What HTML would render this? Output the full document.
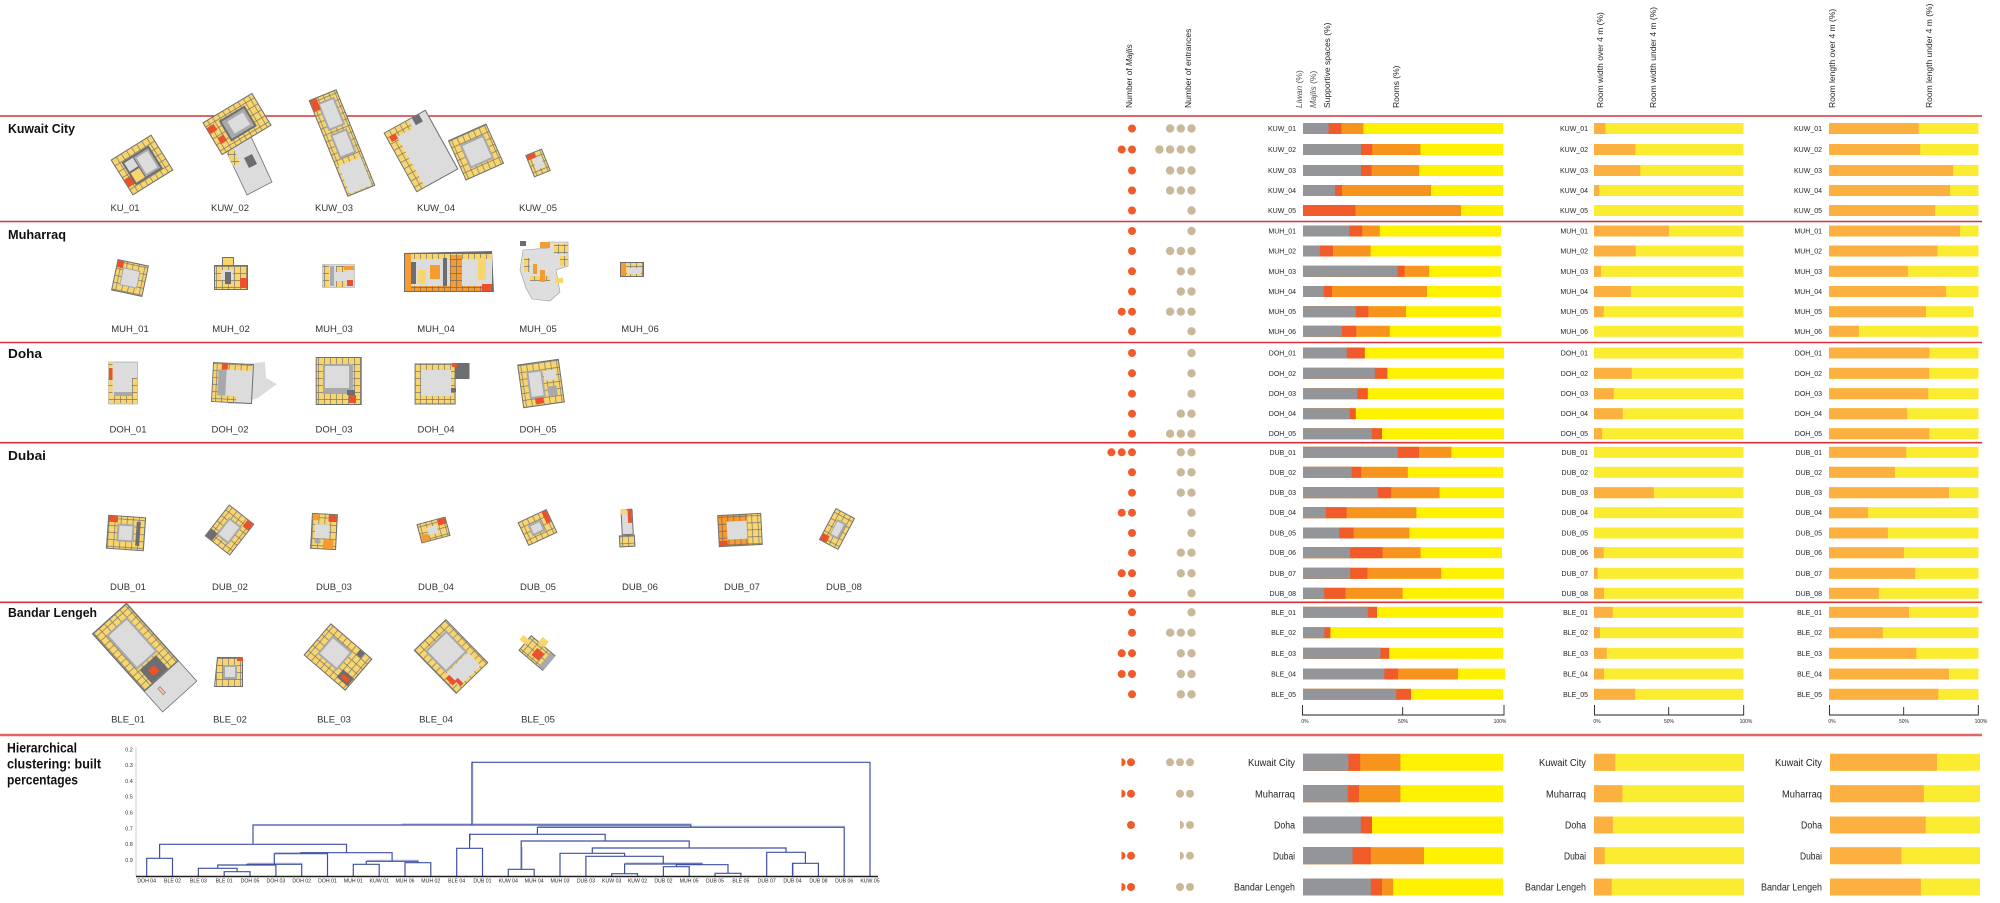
<!DOCTYPE html>
<html><head><meta charset="utf-8">
<style>
html,body{margin:0;padding:0;background:#fff;}
body{width:2000px;height:903px;overflow:hidden;}
svg{display:block;font-family:"Liberation Sans",sans-serif;}
.g{fill:#939598}.r{fill:#f15a29}.o{fill:#f7941d}.y{fill:#fff200}
.wo{fill:#fbb040}.wy{fill:#f9ec31}
.m{fill:#f15a29}.e{fill:#c9b99a}
.lb{font-size:7px;fill:#231f20;text-anchor:end}
.sl{font-size:10px;fill:#231f20;text-anchor:end}
.pl{font-size:9.5px;fill:#333;text-anchor:middle}
.hd{font-size:8.5px;fill:#231f20}
.ttl{font-size:13px;font-weight:bold;fill:#111}
.ax{font-size:5px;fill:#231f20;text-anchor:middle}
.lf{font-size:5.2px;fill:#231f20;text-anchor:middle}
.D{fill:#6d6e71}.Y{fill:#f9d56e}.M{fill:#a7a9ac}.L{fill:#dcdcdc}.R{fill:#e9522b}.O{fill:#f59b30}
.P{fill:url(#rm)}.PO{fill:url(#ro)}
</style></head>
<body>
<svg width="2000" height="903" viewBox="0 0 2000 903" xmlns="http://www.w3.org/2000/svg">
<defs>
<pattern id="rm" width="6" height="7" patternUnits="userSpaceOnUse"><rect width="6" height="7" fill="#f9d56e"/><path d="M0.35 0V7M0 0.35H6" stroke="#7a7970" stroke-width="0.7"/></pattern>
<pattern id="ro" width="6" height="7" patternUnits="userSpaceOnUse"><rect width="6" height="7" fill="#f59b30"/><path d="M0.35 0V7M0 0.35H6" stroke="#7a6a5e" stroke-width="0.7"/></pattern>
</defs>

<!-- separator lines -->
<g stroke="#d8313a" stroke-width="1.6">
<line x1="0" y1="116" x2="1982" y2="116"/>
<line x1="0" y1="221.5" x2="1982" y2="221.5"/>
<line x1="0" y1="342.5" x2="1982" y2="342.5"/>
<line x1="0" y1="442.7" x2="1982" y2="442.7"/>
<line x1="0" y1="602.3" x2="1982" y2="602.3"/>
</g>
<line x1="0" y1="735" x2="1982" y2="735" stroke="#e06767" stroke-width="2.4"/>

<!-- headers -->
<g class="hd">
<text transform="translate(1132,108) rotate(-90)">Number of <tspan font-style="italic">Majlis</tspan></text>
<text transform="translate(1191,108) rotate(-90)">Number of entrances</text>
<text transform="translate(1302,108) rotate(-90)" fill="#555"><tspan font-style="italic">Liwan</tspan> (%)</text>
<text transform="translate(1316,108) rotate(-90)" fill="#555"><tspan font-style="italic">Majlis</tspan> (%)</text>
<text transform="translate(1330,108) rotate(-90)">Supportive spaces (%)</text>
<text transform="translate(1399,108) rotate(-90)">Rooms (%)</text>
<text transform="translate(1603,108) rotate(-90)">Room width over 4 m (%)</text>
<text transform="translate(1656,108) rotate(-90)">Room width under 4 m (%)</text>
<text transform="translate(1835,108) rotate(-90)">Room length over 4 m (%)</text>
<text transform="translate(1932,108) rotate(-90)">Room length under 4 m (%)</text>
</g>

<!-- region titles -->
<text class="ttl" x="8" y="133" textLength="67" lengthAdjust="spacingAndGlyphs">Kuwait City</text>
<text class="ttl" x="8" y="239" textLength="58" lengthAdjust="spacingAndGlyphs">Muharraq</text>
<text class="ttl" x="8" y="358" textLength="34" lengthAdjust="spacingAndGlyphs">Doha</text>
<text class="ttl" x="8" y="460" textLength="38" lengthAdjust="spacingAndGlyphs">Dubai</text>
<text class="ttl" x="8" y="617" textLength="89" lengthAdjust="spacingAndGlyphs">Bandar Lengeh</text>
<g font-size="14" font-weight="bold" fill="#111">
<text x="7" y="752.5" textLength="70" lengthAdjust="spacingAndGlyphs">Hierarchical</text>
<text x="7" y="768.5" textLength="94" lengthAdjust="spacingAndGlyphs">clustering: built</text>
<text x="7" y="784.5" textLength="71" lengthAdjust="spacingAndGlyphs">percentages</text>
</g>

<!-- ===== floor plans ===== -->
<!-- Kuwait -->
<g transform="translate(142,165) rotate(-32)">
<rect x="-24" y="-21" width="48" height="42" class="D"/><rect x="-23" y="-20" width="46" height="40" class="P"/>
<rect x="-16" y="-13" width="32" height="27" class="D"/><rect x="-3" y="-11" width="17" height="23" class="M"/><rect x="-1" y="-9" width="13" height="19" class="L"/>
<rect x="-14" y="-11" width="10" height="10" class="L"/><rect x="-14" y="1" width="10" height="11" class="Y"/>
<rect x="-23" y="3" width="7" height="9" class="R"/>
</g>
<polygon points="222,142 247,128 272,182 247,195" class="L" stroke="#6d6e71" stroke-width="0.8"/>
<polygon points="222,142 229,139 240,163 233,166" class="P"/>
<polygon points="244,158 252,154 257,164 249,168" class="D"/>
<g transform="translate(237,124) rotate(-31)">
<rect x="-29" y="-19" width="58" height="38" class="D"/><rect x="-28" y="-18" width="56" height="36" class="P"/>
<rect x="-14" y="-12" width="30" height="24" class="D"/><rect x="-12" y="-10" width="26" height="20" class="M"/><rect x="-7" y="-7" width="18" height="14" class="L"/>
<rect x="-28" y="-12" width="8" height="7" class="R"/><rect x="-24" y="2" width="7" height="7" class="R"/>
</g>
<g transform="translate(342,143) rotate(-22)">
<rect x="-15" y="-52" width="30" height="104" class="D"/><rect x="-14" y="-51" width="28" height="102" class="P"/>
<rect x="-8" y="-46" width="18" height="30" class="M"/><rect x="-6" y="-44" width="14" height="26" class="L"/>
<rect x="-8" y="-12" width="18" height="26" class="M"/><rect x="-6" y="-10" width="14" height="22" class="L"/>
<rect x="-12" y="20" width="24" height="30" class="L"/>
<rect x="-14" y="-51" width="7" height="12" class="R"/>
</g>
<g transform="translate(421,151) rotate(-29)">
<rect x="-24" y="-34" width="48" height="68" class="D"/><rect x="-23" y="-33" width="46" height="66" class="L"/>
<rect x="-23" y="-33" width="9" height="66" class="P"/><rect x="-14" y="-33" width="18" height="9" class="P"/>
<rect x="-21" y="-28" width="7" height="6" class="R"/><rect x="8" y="-33" width="8" height="8" class="D"/>
</g>
<g transform="translate(476,152) rotate(-24)">
<rect x="-21" y="-22" width="42" height="44" class="D"/><rect x="-20" y="-21" width="40" height="42" class="P"/>
<rect x="-12" y="-13" width="26" height="26" class="M"/><rect x="-10" y="-11" width="22" height="22" class="L"/>
</g>
<g transform="translate(538,163) rotate(-22)">
<rect x="-9" y="-12" width="18" height="24" class="D"/><rect x="-8" y="-11" width="16" height="22" class="P"/>
<rect x="-4" y="-6" width="9" height="12" class="L"/><rect x="-8" y="-11" width="8" height="5" class="R"/>
</g>

<!-- Muharraq -->
<g transform="translate(130,278) rotate(12)">
<rect x="-16" y="-16" width="32" height="32" class="D"/><rect x="-15" y="-15" width="30" height="30" class="P"/>
<rect x="-9" y="-9" width="18" height="18" class="M"/><rect x="-8" y="-8" width="16" height="16" class="L"/>
<rect x="-15" y="-15" width="6" height="7" class="R"/>
</g>
<rect x="214" y="265" width="34" height="25" class="D"/><rect x="215" y="266" width="32" height="23" class="P"/>
<rect x="221" y="270" width="12" height="10" class="L"/><rect x="225" y="272" width="6" height="12" class="D"/>
<rect x="240" y="278" width="7" height="10" class="R"/>
<rect x="222" y="257" width="12" height="9" class="D"/><rect x="223" y="258" width="10" height="7" class="Y"/>
<rect x="322" y="264" width="33" height="24" fill="#c8c8c8"/><rect x="323" y="265" width="31" height="22" class="L"/>
<rect x="323" y="265" width="6" height="22" class="P"/><rect x="330" y="266" width="4" height="20" class="M"/>
<rect x="336" y="266" width="12" height="6" class="P"/><rect x="344" y="266" width="10" height="4" class="O"/>
<rect x="336" y="281" width="10" height="6" class="P"/><rect x="347" y="280" width="6" height="6" class="R"/>
<polygon points="404,253 492,251 494,292 404,292" class="D"/>
<rect x="405" y="254" width="87" height="37" class="L"/>
<rect x="405" y="254" width="87" height="5" class="P"/><rect x="405" y="286" width="87" height="5" class="PO"/>
<rect x="405" y="254" width="6" height="37" class="O"/><rect x="411" y="262" width="5" height="22" class="D"/>
<rect x="418" y="270" width="8" height="14" class="Y"/><rect x="430" y="265" width="10" height="14" class="O"/>
<rect x="443" y="258" width="4" height="28" class="D"/><rect x="450" y="255" width="12" height="36" class="PO"/>
<rect x="478" y="258" width="8" height="22" class="Y"/><rect x="482" y="284" width="10" height="7" class="R"/>
<polygon points="523,250 548,248 548,242 568,242 568,266 556,270 560,292 550,301 532,299 526,288 520,270" fill="#dedede" stroke="#999" stroke-width="0.6"/>
<rect x="540" y="242" width="10" height="6" class="O"/><rect x="554" y="244" width="14" height="10" class="P"/>
<rect x="560" y="256" width="8" height="10" class="P"/><rect x="524" y="258" width="6" height="14" class="P"/>
<rect x="530" y="276" width="20" height="5" class="P"/><rect x="555" y="278" width="8" height="5" class="Y"/>
<rect x="540" y="270" width="5" height="12" class="O"/><rect x="533" y="264" width="4" height="10" class="O"/>
<rect x="520" y="241" width="6" height="5" class="D"/>
<rect x="620" y="262" width="24" height="15" class="D"/><rect x="621" y="263" width="22" height="13" class="P"/>
<rect x="627" y="268" width="14" height="6" class="L"/><rect x="621" y="263" width="5" height="13" class="O"/>

<!-- Doha -->
<rect x="108.6" y="362" width="28.8" height="42" class="L" stroke="#888" stroke-width="0.5"/>
<rect x="108.6" y="362" width="4" height="40" class="P"/><rect x="109" y="368" width="3.5" height="12" class="R"/>
<rect x="132" y="378" width="5" height="26" class="P"/><rect x="112" y="396" width="22" height="7" class="P"/>
<rect x="114" y="392" width="18" height="4" class="M"/>
<polygon points="230,365 265,362 266,378 277,384 258,398 240,404 228,404" fill="#dcdcdc"/>
<g transform="rotate(3 232 383)">
<rect x="212" y="363" width="41" height="40" class="D"/><rect x="213" y="364" width="39" height="38" class="L"/>
<rect x="213" y="364" width="5" height="38" class="P"/><rect x="218" y="364" width="33" height="6" class="P"/>
<rect x="221" y="364" width="6" height="6" class="R"/><rect x="215" y="396" width="22" height="6" class="P"/>
<rect x="218" y="370" width="8" height="26" class="M"/>
</g>
<rect x="315.7" y="357" width="46" height="48" class="D"/><rect x="316.7" y="358" width="44" height="46" class="P"/>
<rect x="323" y="364" width="30" height="30" class="M"/><rect x="325" y="366" width="24" height="22" class="L"/>
<rect x="347" y="390" width="8" height="5" class="D"/><rect x="349" y="395" width="7" height="8" class="R"/>
<rect x="414.6" y="363.5" width="41" height="41" class="D"/><rect x="415.6" y="364.5" width="39" height="39" class="P"/>
<rect x="421" y="370" width="30" height="26" class="L"/><rect x="455" y="363" width="14.5" height="16" class="D"/>
<rect x="452" y="363" width="5" height="4" class="R"/><rect x="451" y="388" width="5" height="4" class="D"/>
<g transform="translate(541,383.5) rotate(-8)">
<rect x="-21" y="-22" width="42" height="44" class="D"/><rect x="-20" y="-21" width="40" height="42" class="P"/>
<rect x="-13" y="-14" width="16" height="28" class="M"/><rect x="-11" y="-12" width="12" height="24" class="L"/>
<rect x="4" y="-12" width="12" height="10" class="L"/><rect x="6" y="4" width="9" height="10" class="M"/>
<rect x="-8" y="14" width="8" height="6" class="R"/>
</g>

<!-- Dubai -->
<g transform="translate(126,533) rotate(4)">
<rect x="-19" y="-17" width="38" height="34" class="D"/><rect x="-18" y="-16" width="36" height="32" class="P"/>
<rect x="-9" y="-9" width="17" height="18" class="M"/><rect x="-7" y="-7" width="13" height="14" class="L"/>
<rect x="-18" y="-16" width="9" height="6" class="R"/><rect x="10" y="-12" width="4" height="24" class="D"/>
</g>
<g transform="translate(229.5,530) rotate(38)">
<rect x="-16" y="-20" width="32" height="40" class="D"/><rect x="-15" y="-19" width="30" height="38" class="P"/>
<rect x="-8" y="-10" width="16" height="22" class="M"/><rect x="-6" y="-8" width="12" height="18" class="L"/>
<rect x="8" y="-19" width="7" height="8" class="R"/><rect x="-15" y="10" width="8" height="9" class="D"/>
</g>
<g transform="translate(324,531.5) rotate(3)">
<rect x="-13" y="-18" width="26" height="36" class="D"/><rect x="-12" y="-17" width="24" height="34" class="P"/>
<rect x="-9" y="-7" width="14" height="14" class="L"/><rect x="4" y="-17" width="8" height="7" class="R"/>
<rect x="-12" y="-17" width="6" height="6" class="O"/><rect x="0" y="8" width="10" height="9" class="O"/>
<rect x="-9" y="8" width="6" height="4" class="M"/>
</g>
<g transform="translate(433.5,530) rotate(-15)">
<rect x="-15" y="-10" width="30" height="20" class="D"/><rect x="-14" y="-9" width="28" height="18" class="P"/>
<rect x="-6" y="-4" width="10" height="8" class="L"/><rect x="6" y="-9" width="8" height="6" class="R"/>
<rect x="-14" y="2" width="8" height="7" class="O"/>
</g>
<g transform="translate(537.5,527.5) rotate(-25)">
<rect x="-16" y="-13" width="32" height="26" class="D"/><rect x="-15" y="-12" width="30" height="24" class="P"/>
<rect x="-8" y="-6" width="14" height="12" class="M"/><rect x="-6" y="-4" width="10" height="8" class="L"/>
<rect x="10" y="-12" width="5" height="12" class="R"/>
</g>
<g transform="translate(627.5,529) rotate(-3)">
<rect x="-6" y="-20" width="12" height="26" class="D"/><rect x="-5" y="-19" width="10" height="24" class="L"/>
<rect x="1" y="-20" width="4" height="14" class="R"/><rect x="-6" y="-20" width="6" height="5" class="Y"/>
<rect x="-9" y="6" width="16" height="12" class="D"/><rect x="-8" y="7" width="14" height="10" class="P"/>
</g>
<g transform="translate(740,530) rotate(-3)">
<rect x="-22" y="-16" width="44" height="32" class="D"/><rect x="-21" y="-15" width="42" height="30" class="PO"/>
<rect x="-13" y="-9" width="20" height="18" class="L"/><rect x="8" y="-15" width="13" height="30" class="P"/>
<rect x="-21" y="10" width="8" height="5" class="R"/>
</g>
<g transform="translate(837,529) rotate(28)">
<rect x="-11" y="-18" width="22" height="36" class="D"/><rect x="-10" y="-17" width="20" height="34" class="P"/>
<rect x="-4" y="-9" width="10" height="18" class="M"/><rect x="-3" y="-7" width="7" height="14" class="L"/>
<rect x="-10" y="10" width="7" height="7" class="R"/>
</g>

<!-- Bandar Lengeh -->
<g transform="translate(144.6,657.5) rotate(48)">
<rect x="-52.5" y="-23" width="105" height="46" class="L" stroke="#6d6e71" stroke-width="0.8"/>
<rect x="-52.5" y="-23" width="78" height="46" class="D"/><rect x="-51.5" y="-22" width="76" height="44" class="P"/>
<rect x="-42" y="-14" width="46" height="28" class="M"/><rect x="-40" y="-12" width="42" height="24" class="L"/>
<rect x="6" y="-10" width="18" height="22" class="D"/><rect x="12" y="-2" width="8" height="8" class="R"/>
<rect x="32" y="8" width="8" height="3" fill="#f6c0a0" stroke="#6d6e71" stroke-width="0.5"/>
</g>
<polygon points="217,657 243,657 243,687 214,687" class="D"/>
<polygon points="218,658 242,658 242,686 215,686" class="P"/>
<rect x="223" y="665" width="14" height="14" class="M"/><rect x="225" y="667" width="10" height="10" class="L"/>
<rect x="237" y="657" width="6" height="4" class="R"/>
<g transform="translate(338,657) rotate(40.6)">
<rect x="-27.5" y="-21" width="55" height="42" class="D"/><rect x="-26.5" y="-20" width="53" height="40" class="P"/>
<rect x="-18" y="-13" width="26" height="24" class="M"/><rect x="-16" y="-11" width="22" height="20" class="L"/>
<rect x="12" y="6" width="14" height="10" class="D"/><rect x="15" y="9" width="9" height="5" class="R"/>
<rect x="12" y="-20" width="6" height="6" class="D"/>
</g>
<g transform="translate(451,656.5) rotate(45.7)">
<rect x="-30.5" y="-22.5" width="61" height="45" class="D"/><rect x="-29.5" y="-21.5" width="59" height="43" class="P"/>
<rect x="-22" y="-15" width="30" height="30" class="M"/><rect x="-20" y="-13" width="26" height="26" class="L"/>
<rect x="9" y="-15" width="18" height="30" class="L"/>
<rect x="12" y="14" width="10" height="5" class="R"/><rect x="20" y="10" width="8" height="4" class="R"/>
</g>
<g transform="translate(537,653) rotate(40)">
<rect x="-16" y="-10" width="32" height="20" class="D"/><rect x="-15" y="-9" width="30" height="18" class="P"/>
<rect x="-3" y="-4" width="9" height="9" class="R"/><rect x="10" y="-9" width="6" height="18" class="M"/>
<rect x="-22" y="-5" width="8" height="6" class="Y"/><rect x="-6" y="-16" width="8" height="7" class="Y"/>
</g>

<!-- plan labels -->
<g class="pl">
<text x="125" y="211">KU_01</text><text x="230" y="211">KUW_02</text><text x="334" y="211">KUW_03</text><text x="436" y="211">KUW_04</text><text x="538" y="211">KUW_05</text>
<text x="130" y="332">MUH_01</text><text x="231" y="332">MUH_02</text><text x="334" y="332">MUH_03</text><text x="436" y="332">MUH_04</text><text x="538" y="332">MUH_05</text><text x="640" y="332">MUH_06</text>
<text x="128" y="432.5">DOH_01</text><text x="230" y="432.5">DOH_02</text><text x="334" y="432.5">DOH_03</text><text x="436" y="432.5">DOH_04</text><text x="538" y="432.5">DOH_05</text>
<text x="128" y="590">DUB_01</text><text x="230" y="590">DUB_02</text><text x="334" y="590">DUB_03</text><text x="436" y="590">DUB_04</text><text x="538" y="590">DUB_05</text><text x="640" y="590">DUB_06</text><text x="742" y="590">DUB_07</text><text x="844" y="590">DUB_08</text>
<text x="128" y="722.5">BLE_01</text><text x="230" y="722.5">BLE_02</text><text x="334" y="722.5">BLE_03</text><text x="436" y="722.5">BLE_04</text><text x="538" y="722.5">BLE_05</text>
</g>

<!-- ===== dots ===== -->
<g class="m">
<circle cx="1132" cy="128.5" r="4"/>
<circle cx="1132" cy="149.5" r="4"/><circle cx="1121.7" cy="149.5" r="4"/>
<circle cx="1132" cy="170.5" r="4"/><circle cx="1132" cy="190.5" r="4"/><circle cx="1132" cy="210.5" r="4"/>
<circle cx="1132" cy="231" r="4"/><circle cx="1132" cy="251" r="4"/><circle cx="1132" cy="271.3" r="4"/><circle cx="1132" cy="291.5" r="4"/>
<circle cx="1132" cy="311.7" r="4"/><circle cx="1121.7" cy="311.7" r="4"/><circle cx="1132" cy="331.3" r="4"/>
<circle cx="1132" cy="353" r="4"/><circle cx="1132" cy="373.3" r="4"/><circle cx="1132" cy="393.7" r="4"/><circle cx="1132" cy="413.7" r="4"/><circle cx="1132" cy="433.7" r="4"/>
<circle cx="1132" cy="452.3" r="4"/><circle cx="1121.7" cy="452.3" r="4"/><circle cx="1111.4" cy="452.3" r="4"/>
<circle cx="1132" cy="472.3" r="4"/><circle cx="1132" cy="492.7" r="4"/>
<circle cx="1132" cy="512.7" r="4"/><circle cx="1121.7" cy="512.7" r="4"/>
<circle cx="1132" cy="533" r="4"/><circle cx="1132" cy="552.7" r="4"/>
<circle cx="1132" cy="573.3" r="4"/><circle cx="1121.7" cy="573.3" r="4"/><circle cx="1132" cy="593.3" r="4"/>
<circle cx="1132" cy="612.3" r="4"/><circle cx="1132" cy="632.7" r="4"/>
<circle cx="1132" cy="653.3" r="4"/><circle cx="1121.7" cy="653.3" r="4"/>
<circle cx="1132" cy="674" r="4"/><circle cx="1121.7" cy="674" r="4"/><circle cx="1132" cy="694.3" r="4"/>
</g>
<g class="e">
<circle cx="1191.5" cy="128.5" r="4.2"/><circle cx="1180.8" cy="128.5" r="4.2"/><circle cx="1170.1" cy="128.5" r="4.2"/>
<circle cx="1191.5" cy="149.5" r="4.2"/><circle cx="1180.8" cy="149.5" r="4.2"/><circle cx="1170.1" cy="149.5" r="4.2"/><circle cx="1159.4" cy="149.5" r="4.2"/>
<circle cx="1191.5" cy="170.5" r="4.2"/><circle cx="1180.8" cy="170.5" r="4.2"/><circle cx="1170.1" cy="170.5" r="4.2"/>
<circle cx="1191.5" cy="190.5" r="4.2"/><circle cx="1180.8" cy="190.5" r="4.2"/><circle cx="1170.1" cy="190.5" r="4.2"/>
<circle cx="1191.5" cy="210.5" r="4.2"/>
<circle cx="1191.5" cy="231" r="4.2"/>
<circle cx="1191.5" cy="251" r="4.2"/><circle cx="1180.8" cy="251" r="4.2"/><circle cx="1170.1" cy="251" r="4.2"/>
<circle cx="1191.5" cy="271.3" r="4.2"/><circle cx="1180.8" cy="271.3" r="4.2"/>
<circle cx="1191.5" cy="291.5" r="4.2"/><circle cx="1180.8" cy="291.5" r="4.2"/>
<circle cx="1191.5" cy="311.7" r="4.2"/><circle cx="1180.8" cy="311.7" r="4.2"/><circle cx="1170.1" cy="311.7" r="4.2"/>
<circle cx="1191.5" cy="331.3" r="4.2"/>
<circle cx="1191.5" cy="353" r="4.2"/><circle cx="1191.5" cy="373.3" r="4.2"/><circle cx="1191.5" cy="393.7" r="4.2"/>
<circle cx="1191.5" cy="413.7" r="4.2"/><circle cx="1180.8" cy="413.7" r="4.2"/>
<circle cx="1191.5" cy="433.7" r="4.2"/><circle cx="1180.8" cy="433.7" r="4.2"/><circle cx="1170.1" cy="433.7" r="4.2"/>
<circle cx="1191.5" cy="452.3" r="4.2"/><circle cx="1180.8" cy="452.3" r="4.2"/>
<circle cx="1191.5" cy="472.3" r="4.2"/><circle cx="1180.8" cy="472.3" r="4.2"/>
<circle cx="1191.5" cy="492.7" r="4.2"/><circle cx="1180.8" cy="492.7" r="4.2"/>
<circle cx="1191.5" cy="512.7" r="4.2"/><circle cx="1191.5" cy="533" r="4.2"/>
<circle cx="1191.5" cy="552.7" r="4.2"/><circle cx="1180.8" cy="552.7" r="4.2"/>
<circle cx="1191.5" cy="573.3" r="4.2"/><circle cx="1180.8" cy="573.3" r="4.2"/>
<circle cx="1191.5" cy="593.3" r="4.2"/><circle cx="1191.5" cy="612.3" r="4.2"/>
<circle cx="1191.5" cy="632.7" r="4.2"/><circle cx="1180.8" cy="632.7" r="4.2"/><circle cx="1170.1" cy="632.7" r="4.2"/>
<circle cx="1191.5" cy="653.3" r="4.2"/><circle cx="1180.8" cy="653.3" r="4.2"/>
<circle cx="1191.5" cy="674" r="4.2"/><circle cx="1180.8" cy="674" r="4.2"/>
<circle cx="1191.5" cy="694.3" r="4.2"/><circle cx="1180.8" cy="694.3" r="4.2"/>
</g>

<!-- ===== bar rows ===== -->
<!-- KUW_01 -->
<text class="lb" x="1296" y="131">KUW_01</text>
<rect class="y" x="1303" y="123" width="200" height="11"/><rect class="o" x="1303" y="123" width="60.4" height="11"/><rect class="r" x="1303" y="123" width="38.4" height="11"/><rect class="g" x="1303" y="123" width="25.6" height="11"/>
<text class="lb" x="1588" y="131">KUW_01</text><rect class="wy" x="1594" y="123" width="149.5" height="11"/><rect class="wo" x="1594" y="123" width="11.5" height="11"/>
<text class="lb" x="1822" y="131">KUW_01</text><rect class="wy" x="1829" y="123" width="149.5" height="11"/><rect class="wo" x="1829" y="123" width="89.7" height="11"/>
<!-- KUW_02 -->
<text class="lb" x="1296" y="152">KUW_02</text>
<rect class="y" x="1303" y="144" width="200" height="11"/><rect class="o" x="1303" y="144" width="117.4" height="11"/><rect class="r" x="1303" y="144" width="69.2" height="11"/><rect class="g" x="1303" y="144" width="58" height="11"/>
<text class="lb" x="1588" y="152">KUW_02</text><rect class="wy" x="1594" y="144" width="149.5" height="11"/><rect class="wo" x="1594" y="144" width="41.4" height="11"/>
<text class="lb" x="1822" y="152">KUW_02</text><rect class="wy" x="1829" y="144" width="149.5" height="11"/><rect class="wo" x="1829" y="144" width="91.2" height="11"/>
<!-- KUW_03 -->
<text class="lb" x="1296" y="173">KUW_03</text>
<rect class="y" x="1303" y="165" width="200" height="11"/><rect class="o" x="1303" y="165" width="116.2" height="11"/><rect class="r" x="1303" y="165" width="68.6" height="11"/><rect class="g" x="1303" y="165" width="58" height="11"/>
<text class="lb" x="1588" y="173">KUW_03</text><rect class="wy" x="1594" y="165" width="149.5" height="11"/><rect class="wo" x="1594" y="165" width="46.3" height="11"/>
<text class="lb" x="1822" y="173">KUW_03</text><rect class="wy" x="1829" y="165" width="149.5" height="11"/><rect class="wo" x="1829" y="165" width="124.1" height="11"/>
<!-- KUW_04 -->
<text class="lb" x="1296" y="193">KUW_04</text>
<rect class="y" x="1303" y="185" width="200" height="11"/><rect class="o" x="1303" y="185" width="128" height="11"/><rect class="r" x="1303" y="185" width="39" height="11"/><rect class="g" x="1303" y="185" width="32" height="11"/>
<text class="lb" x="1588" y="193">KUW_04</text><rect class="wy" x="1594" y="185" width="149.5" height="11"/><rect class="wo" x="1594" y="185" width="5.2" height="11"/>
<text class="lb" x="1822" y="193">KUW_04</text><rect class="wy" x="1829" y="185" width="149.5" height="11"/><rect class="wo" x="1829" y="185" width="121.1" height="11"/>
<!-- KUW_05 -->
<text class="lb" x="1296" y="213">KUW_05</text>
<rect class="y" x="1303" y="205" width="200" height="11"/><rect class="o" x="1303" y="205" width="158" height="11"/><rect class="r" x="1303" y="205" width="52.4" height="11"/>
<text class="lb" x="1588" y="213">KUW_05</text><rect class="wy" x="1594" y="205" width="149.5" height="11"/>
<text class="lb" x="1822" y="213">KUW_05</text><rect class="wy" x="1829" y="205" width="149.5" height="11"/><rect class="wo" x="1829" y="205" width="106.1" height="11"/>
<!-- MUH_01 -->
<text class="lb" x="1296" y="233.5">MUH_01</text>
<rect class="y" x="1303" y="225.5" width="198" height="11"/><rect class="o" x="1303" y="225.5" width="76.8" height="11"/><rect class="r" x="1303" y="225.5" width="59.2" height="11"/><rect class="g" x="1303" y="225.5" width="46.4" height="11"/>
<text class="lb" x="1588" y="233.5">MUH_01</text><rect class="wy" x="1594" y="225.5" width="149.5" height="11"/><rect class="wo" x="1594" y="225.5" width="75" height="11"/>
<text class="lb" x="1822" y="233.5">MUH_01</text><rect class="wy" x="1829" y="225.5" width="149.5" height="11"/><rect class="wo" x="1829" y="225.5" width="131.1" height="11"/>
<!-- MUH_02 -->
<text class="lb" x="1296" y="253.5">MUH_02</text>
<rect class="y" x="1303" y="245.5" width="198" height="11"/><rect class="o" x="1303" y="245.5" width="67.6" height="11"/><rect class="r" x="1303" y="245.5" width="30" height="11"/><rect class="g" x="1303" y="245.5" width="16.8" height="11"/>
<text class="lb" x="1588" y="253.5">MUH_02</text><rect class="wy" x="1594" y="245.5" width="149.5" height="11"/><rect class="wo" x="1594" y="245.5" width="41.7" height="11"/>
<text class="lb" x="1822" y="253.5">MUH_02</text><rect class="wy" x="1829" y="245.5" width="149.5" height="11"/><rect class="wo" x="1829" y="245.5" width="108.4" height="11"/>
<!-- MUH_03 -->
<text class="lb" x="1296" y="273.8">MUH_03</text>
<rect class="y" x="1303" y="265.8" width="198" height="11"/><rect class="o" x="1303" y="265.8" width="126.2" height="11"/><rect class="r" x="1303" y="265.8" width="101.6" height="11"/><rect class="g" x="1303" y="265.8" width="94.6" height="11"/>
<text class="lb" x="1588" y="273.8">MUH_03</text><rect class="wy" x="1594" y="265.8" width="149.5" height="11"/><rect class="wo" x="1594" y="265.8" width="7" height="11"/>
<text class="lb" x="1822" y="273.8">MUH_03</text><rect class="wy" x="1829" y="265.8" width="149.5" height="11"/><rect class="wo" x="1829" y="265.8" width="78.9" height="11"/>
<!-- MUH_04 -->
<text class="lb" x="1296" y="294">MUH_04</text>
<rect class="y" x="1303" y="286" width="198" height="11"/><rect class="o" x="1303" y="286" width="124" height="11"/><rect class="r" x="1303" y="286" width="29" height="11"/><rect class="g" x="1303" y="286" width="20.8" height="11"/>
<text class="lb" x="1588" y="294">MUH_04</text><rect class="wy" x="1594" y="286" width="149.5" height="11"/><rect class="wo" x="1594" y="286" width="36.8" height="11"/>
<text class="lb" x="1822" y="294">MUH_04</text><rect class="wy" x="1829" y="286" width="149.5" height="11"/><rect class="wo" x="1829" y="286" width="117.1" height="11"/>
<!-- MUH_05 -->
<text class="lb" x="1296" y="314.2">MUH_05</text>
<rect class="y" x="1303" y="306.2" width="198" height="11"/><rect class="o" x="1303" y="306.2" width="103" height="11"/><rect class="r" x="1303" y="306.2" width="65.4" height="11"/><rect class="g" x="1303" y="306.2" width="52.8" height="11"/>
<text class="lb" x="1588" y="314.2">MUH_05</text><rect class="wy" x="1594" y="306.2" width="149.5" height="11"/><rect class="wo" x="1594" y="306.2" width="9.7" height="11"/>
<text class="lb" x="1822" y="314.2">MUH_05</text><rect class="wy" x="1829" y="306.2" width="144.7" height="11"/><rect class="wo" x="1829" y="306.2" width="97" height="11"/>
<!-- MUH_06 -->
<text class="lb" x="1296" y="333.8">MUH_06</text>
<rect class="y" x="1303" y="325.8" width="198" height="11"/><rect class="o" x="1303" y="325.8" width="86.8" height="11"/><rect class="r" x="1303" y="325.8" width="53.2" height="11"/><rect class="g" x="1303" y="325.8" width="39" height="11"/>
<text class="lb" x="1588" y="333.8">MUH_06</text><rect class="wy" x="1594" y="325.8" width="149.5" height="11"/>
<text class="lb" x="1822" y="333.8">MUH_06</text><rect class="wy" x="1829" y="325.8" width="149.5" height="11"/><rect class="wo" x="1829" y="325.8" width="29.9" height="11"/>
<!-- DOH_01 -->
<text class="lb" x="1296" y="355.5">DOH_01</text>
<rect class="y" x="1303" y="347.5" width="201" height="11"/><rect class="r" x="1303" y="347.5" width="61.8" height="11"/><rect class="g" x="1303" y="347.5" width="43.8" height="11"/>
<text class="lb" x="1588" y="355.5">DOH_01</text><rect class="wy" x="1594" y="347.5" width="149.5" height="11"/>
<text class="lb" x="1822" y="355.5">DOH_01</text><rect class="wy" x="1829" y="347.5" width="149.5" height="11"/><rect class="wo" x="1829" y="347.5" width="100.3" height="11"/>
<!-- DOH_02 -->
<text class="lb" x="1296" y="375.8">DOH_02</text>
<rect class="y" x="1303" y="367.8" width="201" height="11"/><rect class="r" x="1303" y="367.8" width="84.4" height="11"/><rect class="g" x="1303" y="367.8" width="71.8" height="11"/>
<text class="lb" x="1588" y="375.8">DOH_02</text><rect class="wy" x="1594" y="367.8" width="149.5" height="11"/><rect class="wo" x="1594" y="367.8" width="37.7" height="11"/>
<text class="lb" x="1822" y="375.8">DOH_02</text><rect class="wy" x="1829" y="367.8" width="149.5" height="11"/><rect class="wo" x="1829" y="367.8" width="100.3" height="11"/>
<!-- DOH_03 -->
<text class="lb" x="1296" y="396.2">DOH_03</text>
<rect class="y" x="1303" y="388.2" width="201" height="11"/><rect class="r" x="1303" y="388.2" width="64.8" height="11"/><rect class="g" x="1303" y="388.2" width="54.4" height="11"/>
<text class="lb" x="1588" y="396.2">DOH_03</text><rect class="wy" x="1594" y="388.2" width="149.5" height="11"/><rect class="wo" x="1594" y="388.2" width="19.7" height="11"/>
<text class="lb" x="1822" y="396.2">DOH_03</text><rect class="wy" x="1829" y="388.2" width="149.5" height="11"/><rect class="wo" x="1829" y="388.2" width="99.3" height="11"/>
<!-- DOH_04 -->
<text class="lb" x="1296" y="416.2">DOH_04</text>
<rect class="y" x="1303" y="408.2" width="201" height="11"/><rect class="r" x="1303" y="408.2" width="52.8" height="11"/><rect class="g" x="1303" y="408.2" width="46.8" height="11"/>
<text class="lb" x="1588" y="416.2">DOH_04</text><rect class="wy" x="1594" y="408.2" width="149.5" height="11"/><rect class="wo" x="1594" y="408.2" width="28.7" height="11"/>
<text class="lb" x="1822" y="416.2">DOH_04</text><rect class="wy" x="1829" y="408.2" width="149.5" height="11"/><rect class="wo" x="1829" y="408.2" width="78.2" height="11"/>
<!-- DOH_05 -->
<text class="lb" x="1296" y="436.2">DOH_05</text>
<rect class="y" x="1303" y="428.2" width="201" height="11"/><rect class="r" x="1303" y="428.2" width="79" height="11"/><rect class="g" x="1303" y="428.2" width="68.8" height="11"/>
<text class="lb" x="1588" y="436.2">DOH_05</text><rect class="wy" x="1594" y="428.2" width="149.5" height="11"/><rect class="wo" x="1594" y="428.2" width="8.1" height="11"/>
<text class="lb" x="1822" y="436.2">DOH_05</text><rect class="wy" x="1829" y="428.2" width="149.5" height="11"/><rect class="wo" x="1829" y="428.2" width="100.3" height="11"/>
<!-- DUB_01 -->
<text class="lb" x="1296" y="454.8">DUB_01</text>
<rect class="y" x="1303" y="446.8" width="201" height="11"/><rect class="o" x="1303" y="446.8" width="148.4" height="11"/><rect class="r" x="1303" y="446.8" width="116" height="11"/><rect class="g" x="1303" y="446.8" width="94.8" height="11"/>
<text class="lb" x="1588" y="454.8">DUB_01</text><rect class="wy" x="1594" y="446.8" width="149.5" height="11"/>
<text class="lb" x="1822" y="454.8">DUB_01</text><rect class="wy" x="1829" y="446.8" width="149.5" height="11"/><rect class="wo" x="1829" y="446.8" width="77.3" height="11"/>
<!-- DUB_02 -->
<text class="lb" x="1296" y="474.8">DUB_02</text>
<rect class="y" x="1303" y="466.8" width="200" height="11"/><rect class="o" x="1303" y="466.8" width="104.8" height="11"/><rect class="r" x="1303" y="466.8" width="58.2" height="11"/><rect class="g" x="1303" y="466.8" width="48.6" height="11"/>
<text class="lb" x="1588" y="474.8">DUB_02</text><rect class="wy" x="1594" y="466.8" width="149.5" height="11"/>
<text class="lb" x="1822" y="474.8">DUB_02</text><rect class="wy" x="1829" y="466.8" width="149.5" height="11"/><rect class="wo" x="1829" y="466.8" width="65.9" height="11"/>
<!-- DUB_03 -->
<text class="lb" x="1296" y="495.2">DUB_03</text>
<rect class="y" x="1303" y="487.2" width="201" height="11"/><rect class="o" x="1303" y="487.2" width="136.6" height="11"/><rect class="r" x="1303" y="487.2" width="88.2" height="11"/><rect class="g" x="1303" y="487.2" width="75" height="11"/>
<text class="lb" x="1588" y="495.2">DUB_03</text><rect class="wy" x="1594" y="487.2" width="149.5" height="11"/><rect class="wo" x="1594" y="487.2" width="59.8" height="11"/>
<text class="lb" x="1822" y="495.2">DUB_03</text><rect class="wy" x="1829" y="487.2" width="149.5" height="11"/><rect class="wo" x="1829" y="487.2" width="120" height="11"/>
<!-- DUB_04 -->
<text class="lb" x="1296" y="515.2">DUB_04</text>
<rect class="y" x="1303" y="507.2" width="201" height="11"/><rect class="o" x="1303" y="507.2" width="113.4" height="11"/><rect class="r" x="1303" y="507.2" width="43.6" height="11"/><rect class="g" x="1303" y="507.2" width="22.8" height="11"/>
<text class="lb" x="1588" y="515.2">DUB_04</text><rect class="wy" x="1594" y="507.2" width="149.5" height="11"/>
<text class="lb" x="1822" y="515.2">DUB_04</text><rect class="wy" x="1829" y="507.2" width="149.5" height="11"/><rect class="wo" x="1829" y="507.2" width="39.2" height="11"/>
<!-- DUB_05 -->
<text class="lb" x="1296" y="535.5">DUB_05</text>
<rect class="y" x="1303" y="527.5" width="201" height="11"/><rect class="o" x="1303" y="527.5" width="106.4" height="11"/><rect class="r" x="1303" y="527.5" width="50.6" height="11"/><rect class="g" x="1303" y="527.5" width="36.4" height="11"/>
<text class="lb" x="1588" y="535.5">DUB_05</text><rect class="wy" x="1594" y="527.5" width="149.5" height="11"/>
<text class="lb" x="1822" y="535.5">DUB_05</text><rect class="wy" x="1829" y="527.5" width="149.5" height="11"/><rect class="wo" x="1829" y="527.5" width="58.9" height="11"/>
<!-- DUB_06 -->
<text class="lb" x="1296" y="555.2">DUB_06</text>
<rect class="y" x="1303" y="547.2" width="199" height="11"/><rect class="o" x="1303" y="547.2" width="117.6" height="11"/><rect class="r" x="1303" y="547.2" width="79.6" height="11"/><rect class="g" x="1303" y="547.2" width="47.2" height="11"/>
<text class="lb" x="1588" y="555.2">DUB_06</text><rect class="wy" x="1594" y="547.2" width="149.5" height="11"/><rect class="wo" x="1594" y="547.2" width="9.7" height="11"/>
<text class="lb" x="1822" y="555.2">DUB_06</text><rect class="wy" x="1829" y="547.2" width="149.5" height="11"/><rect class="wo" x="1829" y="547.2" width="74.9" height="11"/>
<!-- DUB_07 -->
<text class="lb" x="1296" y="575.8">DUB_07</text>
<rect class="y" x="1303" y="567.8" width="201" height="11"/><rect class="o" x="1303" y="567.8" width="138.2" height="11"/><rect class="r" x="1303" y="567.8" width="64.4" height="11"/><rect class="g" x="1303" y="567.8" width="47.2" height="11"/>
<text class="lb" x="1588" y="575.8">DUB_07</text><rect class="wy" x="1594" y="567.8" width="149.5" height="11"/><rect class="wo" x="1594" y="567.8" width="3.7" height="11"/>
<text class="lb" x="1822" y="575.8">DUB_07</text><rect class="wy" x="1829" y="567.8" width="149.5" height="11"/><rect class="wo" x="1829" y="567.8" width="86.3" height="11"/>
<!-- DUB_08 -->
<text class="lb" x="1296" y="595.8">DUB_08</text>
<rect class="y" x="1303" y="587.8" width="201" height="11"/><rect class="o" x="1303" y="587.8" width="99.6" height="11"/><rect class="r" x="1303" y="587.8" width="42.4" height="11"/><rect class="g" x="1303" y="587.8" width="21.2" height="11"/>
<text class="lb" x="1588" y="595.8">DUB_08</text><rect class="wy" x="1594" y="587.8" width="149.5" height="11"/><rect class="wo" x="1594" y="587.8" width="10" height="11"/>
<text class="lb" x="1822" y="595.8">DUB_08</text><rect class="wy" x="1829" y="587.8" width="149.5" height="11"/><rect class="wo" x="1829" y="587.8" width="49.8" height="11"/>
<!-- BLE_01 -->
<text class="lb" x="1296" y="614.8">BLE_01</text>
<rect class="y" x="1303" y="606.8" width="200" height="11"/><rect class="r" x="1303" y="606.8" width="74" height="11"/><rect class="g" x="1303" y="606.8" width="64.8" height="11"/>
<text class="lb" x="1588" y="614.8">BLE_01</text><rect class="wy" x="1594" y="606.8" width="149.5" height="11"/><rect class="wo" x="1594" y="606.8" width="18.7" height="11"/>
<text class="lb" x="1822" y="614.8">BLE_01</text><rect class="wy" x="1829" y="606.8" width="149.5" height="11"/><rect class="wo" x="1829" y="606.8" width="80" height="11"/>
<!-- BLE_02 -->
<text class="lb" x="1296" y="635.2">BLE_02</text>
<rect class="y" x="1303" y="627.2" width="200" height="11"/><rect class="r" x="1303" y="627.2" width="27.4" height="11"/><rect class="g" x="1303" y="627.2" width="21.4" height="11"/>
<text class="lb" x="1588" y="635.2">BLE_02</text><rect class="wy" x="1594" y="627.2" width="149.5" height="11"/><rect class="wo" x="1594" y="627.2" width="6" height="11"/>
<text class="lb" x="1822" y="635.2">BLE_02</text><rect class="wy" x="1829" y="627.2" width="149.5" height="11"/><rect class="wo" x="1829" y="627.2" width="53.8" height="11"/>
<!-- BLE_03 -->
<text class="lb" x="1296" y="655.8">BLE_03</text>
<rect class="y" x="1303" y="647.8" width="200" height="11"/><rect class="r" x="1303" y="647.8" width="86.2" height="11"/><rect class="g" x="1303" y="647.8" width="77.4" height="11"/>
<text class="lb" x="1588" y="655.8">BLE_03</text><rect class="wy" x="1594" y="647.8" width="149.5" height="11"/><rect class="wo" x="1594" y="647.8" width="12.7" height="11"/>
<text class="lb" x="1822" y="655.8">BLE_03</text><rect class="wy" x="1829" y="647.8" width="149.5" height="11"/><rect class="wo" x="1829" y="647.8" width="87.3" height="11"/>
<!-- BLE_04 -->
<text class="lb" x="1296" y="676.5">BLE_04</text>
<rect class="y" x="1303" y="668.5" width="202" height="11"/><rect class="o" x="1303" y="668.5" width="155" height="11"/><rect class="r" x="1303" y="668.5" width="95.2" height="11"/><rect class="g" x="1303" y="668.5" width="81.4" height="11"/>
<text class="lb" x="1588" y="676.5">BLE_04</text><rect class="wy" x="1594" y="668.5" width="149.5" height="11"/><rect class="wo" x="1594" y="668.5" width="10" height="11"/>
<text class="lb" x="1822" y="676.5">BLE_04</text><rect class="wy" x="1829" y="668.5" width="149.5" height="11"/><rect class="wo" x="1829" y="668.5" width="120" height="11"/>
<!-- BLE_05 -->
<text class="lb" x="1296" y="696.8">BLE_05</text>
<rect class="y" x="1303" y="688.8" width="200" height="11"/><rect class="r" x="1303" y="688.8" width="108" height="11"/><rect class="g" x="1303" y="688.8" width="93.2" height="11"/>
<text class="lb" x="1588" y="696.8">BLE_05</text><rect class="wy" x="1594" y="688.8" width="149.5" height="11"/><rect class="wo" x="1594" y="688.8" width="41.1" height="11"/>
<text class="lb" x="1822" y="696.8">BLE_05</text><rect class="wy" x="1829" y="688.8" width="149.5" height="11"/><rect class="wo" x="1829" y="688.8" width="109.3" height="11"/>

<!-- axes -->
<g stroke="#231f20" stroke-width="0.9" fill="none">
<path d="M1302.5 705V715H1504V705M1402.7 707V715"/>
<path d="M1594.5 705V715H1743.7V705M1668.7 707V715"/>
<path d="M1829.5 705V715H1978.3V705M1903.7 707V715"/>
</g>
<g class="ax">
<text x="1305" y="723">0%</text><text x="1403" y="723">50%</text><text x="1500" y="723">100%</text>
<text x="1597" y="723">0%</text><text x="1669" y="723">50%</text><text x="1746" y="723">100%</text>
<text x="1832" y="723">0%</text><text x="1904" y="723">50%</text><text x="1981" y="723">100%</text>
</g>

<!-- ===== summary ===== -->
<g class="m">
<path d="M1121.5 758.3A4 4 0 0 1 1121.5 766.3Z"/><circle cx="1131" cy="762.3" r="4"/>
<path d="M1121.5 789.7A4 4 0 0 1 1121.5 797.7Z"/><circle cx="1131" cy="793.7" r="4"/>
<circle cx="1131" cy="825" r="4"/>
<path d="M1121.5 851.7A4 4 0 0 1 1121.5 859.7Z"/><circle cx="1131" cy="855.7" r="4"/>
<path d="M1121.5 883A4 4 0 0 1 1121.5 891Z"/><circle cx="1131" cy="887" r="4"/>
</g>
<g class="e">
<circle cx="1170" cy="762.3" r="4"/><circle cx="1180" cy="762.3" r="4"/><circle cx="1190" cy="762.3" r="4"/>
<circle cx="1180" cy="793.7" r="4"/><circle cx="1190" cy="793.7" r="4"/>
<path d="M1180 821A4 4 0 0 1 1180 829Z"/><circle cx="1190" cy="825" r="4"/>
<path d="M1180 851.7A4 4 0 0 1 1180 859.7Z"/><circle cx="1190" cy="855.7" r="4"/>
<circle cx="1180" cy="887" r="4"/><circle cx="1190" cy="887" r="4"/>
</g>
<!-- Kuwait City -->
<text class="sl" x="1295" y="766" textLength="47" lengthAdjust="spacingAndGlyphs">Kuwait City</text>
<rect class="y" x="1303" y="753.8" width="200" height="17"/><rect class="o" x="1303" y="753.8" width="97.4" height="17"/><rect class="r" x="1303" y="753.8" width="57.2" height="17"/><rect class="g" x="1303" y="753.8" width="45.4" height="17"/>
<text class="sl" x="1586" y="766" textLength="47" lengthAdjust="spacingAndGlyphs">Kuwait City</text><rect class="wy" x="1594" y="753.8" width="150" height="17"/><rect class="wo" x="1594" y="753.8" width="21.3" height="17"/>
<text class="sl" x="1822" y="766" textLength="47" lengthAdjust="spacingAndGlyphs">Kuwait City</text><rect class="wy" x="1830" y="753.8" width="150" height="17"/><rect class="wo" x="1830" y="753.8" width="107" height="17"/>
<!-- Muharraq -->
<text class="sl" x="1295" y="797.4" textLength="40" lengthAdjust="spacingAndGlyphs">Muharraq</text>
<rect class="y" x="1303" y="785.2" width="200" height="17"/><rect class="o" x="1303" y="785.2" width="97.4" height="17"/><rect class="r" x="1303" y="785.2" width="56" height="17"/><rect class="g" x="1303" y="785.2" width="44.8" height="17"/>
<text class="sl" x="1586" y="797.4" textLength="40" lengthAdjust="spacingAndGlyphs">Muharraq</text><rect class="wy" x="1594" y="785.2" width="150" height="17"/><rect class="wo" x="1594" y="785.2" width="28.4" height="17"/>
<text class="sl" x="1822" y="797.4" textLength="40" lengthAdjust="spacingAndGlyphs">Muharraq</text><rect class="wy" x="1830" y="785.2" width="150" height="17"/><rect class="wo" x="1830" y="785.2" width="93.9" height="17"/>
<!-- Doha -->
<text class="sl" x="1295" y="828.7" textLength="21" lengthAdjust="spacingAndGlyphs">Doha</text>
<rect class="y" x="1303" y="816.5" width="200" height="17"/><rect class="r" x="1303" y="816.5" width="69" height="17"/><rect class="g" x="1303" y="816.5" width="57.8" height="17"/>
<text class="sl" x="1586" y="828.7" textLength="21" lengthAdjust="spacingAndGlyphs">Doha</text><rect class="wy" x="1594" y="816.5" width="150" height="17"/><rect class="wo" x="1594" y="816.5" width="18.9" height="17"/>
<text class="sl" x="1822" y="828.7" textLength="21" lengthAdjust="spacingAndGlyphs">Doha</text><rect class="wy" x="1830" y="816.5" width="150" height="17"/><rect class="wo" x="1830" y="816.5" width="95.7" height="17"/>
<!-- Dubai -->
<text class="sl" x="1295" y="859.4" textLength="22" lengthAdjust="spacingAndGlyphs">Dubai</text>
<rect class="y" x="1303" y="847.2" width="200" height="17"/><rect class="o" x="1303" y="847.2" width="121" height="17"/><rect class="r" x="1303" y="847.2" width="67.8" height="17"/><rect class="g" x="1303" y="847.2" width="49.6" height="17"/>
<text class="sl" x="1586" y="859.4" textLength="22" lengthAdjust="spacingAndGlyphs">Dubai</text><rect class="wy" x="1594" y="847.2" width="150" height="17"/><rect class="wo" x="1594" y="847.2" width="10.7" height="17"/>
<text class="sl" x="1822" y="859.4" textLength="22" lengthAdjust="spacingAndGlyphs">Dubai</text><rect class="wy" x="1830" y="847.2" width="150" height="17"/><rect class="wo" x="1830" y="847.2" width="71.4" height="17"/>
<!-- Bandar Lengeh -->
<text class="sl" x="1295" y="890.7" textLength="61" lengthAdjust="spacingAndGlyphs">Bandar Lengeh</text>
<rect class="y" x="1303" y="878.5" width="200" height="17"/><rect class="o" x="1303" y="878.5" width="90.2" height="17"/><rect class="r" x="1303" y="878.5" width="79" height="17"/><rect class="g" x="1303" y="878.5" width="67.8" height="17"/>
<text class="sl" x="1586" y="890.7" textLength="61" lengthAdjust="spacingAndGlyphs">Bandar Lengeh</text><rect class="wy" x="1594" y="878.5" width="150" height="17"/><rect class="wo" x="1594" y="878.5" width="17.7" height="17"/>
<text class="sl" x="1822" y="890.7" textLength="61" lengthAdjust="spacingAndGlyphs">Bandar Lengeh</text><rect class="wy" x="1830" y="878.5" width="150" height="17"/><rect class="wo" x="1830" y="878.5" width="90.9" height="17"/>

<!-- ===== dendrogram ===== -->
<line x1="136" y1="747" x2="136" y2="876" stroke="#cfcfcf" stroke-width="1"/>
<g font-size="5.5" fill="#333" text-anchor="middle">
<text x="129" y="751.3">0.2</text><text x="129" y="767.1">0.3</text><text x="129" y="782.9">0.4</text><text x="129" y="798.7">0.5</text>
<text x="129" y="814.5">0.6</text><text x="129" y="830.3">0.7</text><text x="129" y="846.1">0.8</text><text x="129" y="861.9">0.9</text>
</g>
<g fill="none" stroke-width="1.2">
<g stroke="#b3bce0" transform="translate(0.8,-1)">
<path d="M401 825H690.8M537.4 827.3H844.2M274.3 853.7H327.5M246.8 864.3H301.7M366.3 861.3H417.9M471.9 825V762.3M469.6 834.3V841M624.6 864H702.1M792.5 863.3V876M521.2 848V869.3"/>
</g>
<g stroke="#3f51a3">
<path d="M146.7 876V858.3H172.5V876"/>
<path d="M224.2 876V871.7H250V876"/>
<path d="M198.4 876V868.3H237.1V871.7"/>
<path d="M217.7 868.3V865H275.9V876"/>
<path d="M246.8 865V864.3H301.7V876"/>
<path d="M274.3 864.3V853.7H327.5V876"/>
<path d="M353.3 876V864.3H379.2V876"/>
<path d="M405 876V862.7H430.8V876"/>
<path d="M366.3 864.3V861.3H417.9V862.7"/>
<path d="M300.9 853.7V852.7H392.1V861.3"/>
<path d="M159.6 858.3V844.3H346.5V852.7"/>
<path d="M456.7 876V848.3H482.5V876"/>
<path d="M508.3 876V869.3H534.2V876"/>
<path d="M611.7 876V873.7H637.5V876"/>
<path d="M663.4 876V866.7H689.2V876"/>
<path d="M715 876V873.3H740.9V876"/>
<path d="M676.3 866.7V864.7H728V873.3"/>
<path d="M624.6 873.7V864H702.1V864.7"/>
<path d="M585.9 876V856.3H663.3V864"/>
<path d="M560 876V853.3H624.6V856.3"/>
<path d="M792.5 876V863.3H818.4V876"/>
<path d="M766.7 876V852.3H805.4V863.3"/>
<path d="M592.3 853.3V848H786V852.3"/>
<path d="M521.2 869.3V841H689.2V848"/>
<path d="M469.6 848.3V834.3H605.2V841"/>
<path d="M537.4 834.3V827.3H844.2V876"/>
<path d="M253 844.3V825H690.8V827.3"/>
<path d="M471.9 825V762.3H870V876"/>
</g>
</g>
<line x1="136" y1="876.5" x2="878" y2="876.5" stroke="#231f20" stroke-width="1.6"/>
<g class="lf">
<text x="146.7" y="882.5">DOH 04</text><text x="172.5" y="882.5">BLE 02</text><text x="198.4" y="882.5">BLE 03</text><text x="224.2" y="882.5">BLE 01</text>
<text x="250" y="882.5">DOH 05</text><text x="275.9" y="882.5">DOH 03</text><text x="301.7" y="882.5">DOH 02</text><text x="327.5" y="882.5">DOH 01</text>
<text x="353.3" y="882.5">MUH 01</text><text x="379.2" y="882.5">KUW 01</text><text x="405" y="882.5">MUH 06</text><text x="430.8" y="882.5">MUH 02</text>
<text x="456.7" y="882.5">BLE 04</text><text x="482.5" y="882.5">DUB 01</text><text x="508.3" y="882.5">KUW 04</text><text x="534.2" y="882.5">MUH 04</text>
<text x="560" y="882.5">MUH 03</text><text x="585.9" y="882.5">DUB 03</text><text x="611.7" y="882.5">KUW 03</text><text x="637.5" y="882.5">KUW 02</text>
<text x="663.4" y="882.5">DUB 02</text><text x="689.2" y="882.5">MUH 05</text><text x="715" y="882.5">DUB 05</text><text x="740.9" y="882.5">BLE 05</text>
<text x="766.7" y="882.5">DUB 07</text><text x="792.5" y="882.5">DUB 04</text><text x="818.4" y="882.5">DUB 08</text><text x="844.2" y="882.5">DUB 06</text>
<text x="870" y="882.5">KUW 05</text>
</g>
</svg>
</body></html>
